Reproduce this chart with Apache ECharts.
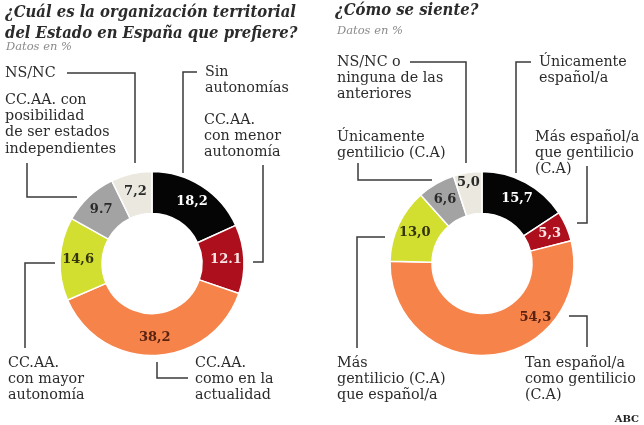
<!DOCTYPE html>
<html>
<head>
<meta charset="utf-8">
<script src="https://cdn.jsdelivr.net/npm/echarts@6/dist/echarts.min.js"></script>
<style>
html,body{margin:0;padding:0;background:#fff;}
#c{width:644px;height:425px;}
</style>
</head>
<body>
<div id="c"></div>
<script>
// ---- Data ----
const leftTitle = '¿Cuál es la organización territorial\ndel Estado en España que prefiere?';
const rightTitle = '¿Cómo se siente?';
const subtitle = 'Datos en %';
const source = 'ABC';

const leftCategories = ['Sin autonomías', 'CC.AA. con menor autonomía', 'CC.AA. como en la actualidad', 'CC.AA. con mayor autonomía', 'CC.AA. con posibilidad de ser estados independientes', 'NS/NC'];
const leftValues = [18.2, 12.1, 38.2, 14.6, 9.7, 7.2];
const leftValueLabels = ['18,2', '12.1', '38,2', '14,6', '9.7', '7,2'];
const leftNotes = ['Sin\nautonomías', 'CC.AA.\ncon menor\nautonomía', 'CC.AA.\ncomo en la\nactualidad', 'CC.AA.\ncon mayor\nautonomía', 'CC.AA. con\nposibilidad\nde ser estados\nindependientes', 'NS/NC'];

const rightCategories = ['Únicamente español/a', 'Más español/a que gentilicio (C.A)', 'Tan español/a como gentilicio (C.A)', 'Más gentilicio (C.A) que español/a', 'Únicamente gentilicio (C.A)', 'NS/NC o ninguna de las anteriores'];
const rightValues = [15.7, 5.3, 54.3, 13.0, 6.6, 5.0];
const rightValueLabels = ['15,7', '5,3', '54,3', '13,0', '6,6', '5,0'];
const rightNotes = ['Únicamente\nespañol/a', 'Más español/a\nque gentilicio\n(C.A)', 'Tan español/a\ncomo gentilicio\n(C.A)', 'Más\ngentilicio (C.A)\nque español/a', 'Únicamente\ngentilicio (C.A)', 'NS/NC o\nninguna de las\nanteriores'];

// ---- Styles / layout ----
const sliceColors = ['#050505', '#ad0f1c', '#f5834a', '#d2de30', '#a3a3a3', '#ebe8df'];
const valueColors = ['#ffffff', '#f8e6e6', '#5a2210', '#33340a', '#2a2a2a', '#2a2a2a'];
const FONT = '"DejaVu Serif", serif';
const TFONT = '"DejaVu Serif Condensed", "DejaVu Serif", serif';
const LH = 16.3;

// fit title font so that the first title line spans ~293px
function fitSize(text, style, family, target, start) {
  const ctx = document.createElement('canvas').getContext('2d');
  let s = start;
  for (; s > 10; s -= 0.25) {
    ctx.font = style + ' ' + s + 'px ' + family;
    if (ctx.measureText(text).width <= target) break;
  }
  return s;
}
const titleSize = fitSize(leftTitle.split('\n')[0], 'italic bold', TFONT, 293, 18);

// note text anchor: [x, centre y of first line]; leader polylines
const leftNoteLayout = [[205, 72], [204, 120], [195, 363], [8, 363], [5, 100], [5, 73]];
const leftLeaders = [
  [[197, 72], [183, 72], [183, 173]],
  [[263, 165], [263, 262], [253, 262]],
  [[157, 362], [157, 378], [188, 378]],
  [[55, 263], [25, 263], [25, 348]],
  [[27, 163], [27, 197], [77, 197]],
  [[67, 73], [135, 73], [135, 163]]
];
const rightNoteLayout = [[539, 62], [535, 137], [525, 363], [337, 363], [337, 137], [337, 62]];
const rightLeaders = [
  [[531, 62], [516, 62], [516, 173]],
  [[587, 166], [587, 223], [577, 223]],
  [[569, 316], [587, 316], [587, 347]],
  [[385, 237], [357, 237], [357, 348]],
  [[358, 163], [358, 180], [432, 180]],
  [[410, 62], [466, 62], [466, 163]]
];
const rightLabelShift = {2: [45, -19], 5: [-2, -8]};

function pieData(cats, vals, labels) {
  return cats.map((c, i) => ({
    name: c,
    value: vals[i],
    itemStyle: {color: sliceColors[i]},
    label: {formatter: labels[i], color: valueColors[i]}
  }));
}

function pieSeries(center, cats, vals, labels) {
  return {
    type: 'pie',
    center: center,
    radius: [50, 92],
    startAngle: 90,
    clockwise: true,
    avoidLabelOverlap: false,
    silent: true,
    animation: false,
    itemStyle: {borderColor: '#fff', borderWidth: 1.5},
    label: {show: true, position: 'inside', fontFamily: FONT, fontSize: 13, fontWeight: 'bold'},
    labelLine: {show: false},
    data: pieData(cats, vals, labels)
  };
}

const graphics = [];
function addNotes(notes, layout, leaders) {
  notes.forEach((t, i) => {
    graphics.push({
      type: 'text', x: layout[i][0], y: layout[i][1] - LH / 2,
      style: {text: t, font: '14.3px ' + FONT, fill: '#2b2b2b', lineHeight: LH, verticalAlign: 'top', align: 'left'}
    });
    graphics.push({
      type: 'polyline', shape: {points: leaders[i]},
      style: {stroke: '#3a3a3a', lineWidth: 1.5, fill: null}
    });
  });
}
addNotes(leftNotes, leftNoteLayout, leftLeaders);
addNotes(rightNotes, rightNoteLayout, rightLeaders);

graphics.push({type: 'text', x: 5, y: 2, style: {text: leftTitle, font: 'italic bold ' + titleSize + 'px ' + TFONT, fill: '#2b2b2b', lineHeight: 21, verticalAlign: 'top'}});
graphics.push({type: 'text', x: 6, y: 41, style: {text: subtitle, font: 'italic 11.5px ' + FONT, fill: '#8a8a8a', verticalAlign: 'top'}});
graphics.push({type: 'text', x: 335, y: 2, style: {text: rightTitle, font: 'italic bold ' + titleSize + 'px ' + TFONT, fill: '#2b2b2b', verticalAlign: 'top'}});
graphics.push({type: 'text', x: 337, y: 25, style: {text: subtitle, font: 'italic 11.5px ' + FONT, fill: '#8a8a8a', verticalAlign: 'top'}});
graphics.push({type: 'text', x: 639, y: 419, style: {text: source, font: 'bold 10px ' + FONT, fill: '#222', align: 'right', verticalAlign: 'middle'}});

const chart = echarts.init(document.getElementById('c'), null, {renderer: 'canvas'});
const rightSeries = pieSeries([482, 263.5], rightCategories, rightValues, rightValueLabels);
rightSeries.labelLayout = function (p) {
  const s = rightLabelShift[p.dataIndex];
  return s ? {dx: s[0], dy: s[1]} : {};
};
chart.setOption({
  backgroundColor: '#fff',
  animation: false,
  series: [
    pieSeries([152, 263.5], leftCategories, leftValues, leftValueLabels),
    rightSeries
  ],
  graphic: graphics
});
</script>
</body>
</html>
